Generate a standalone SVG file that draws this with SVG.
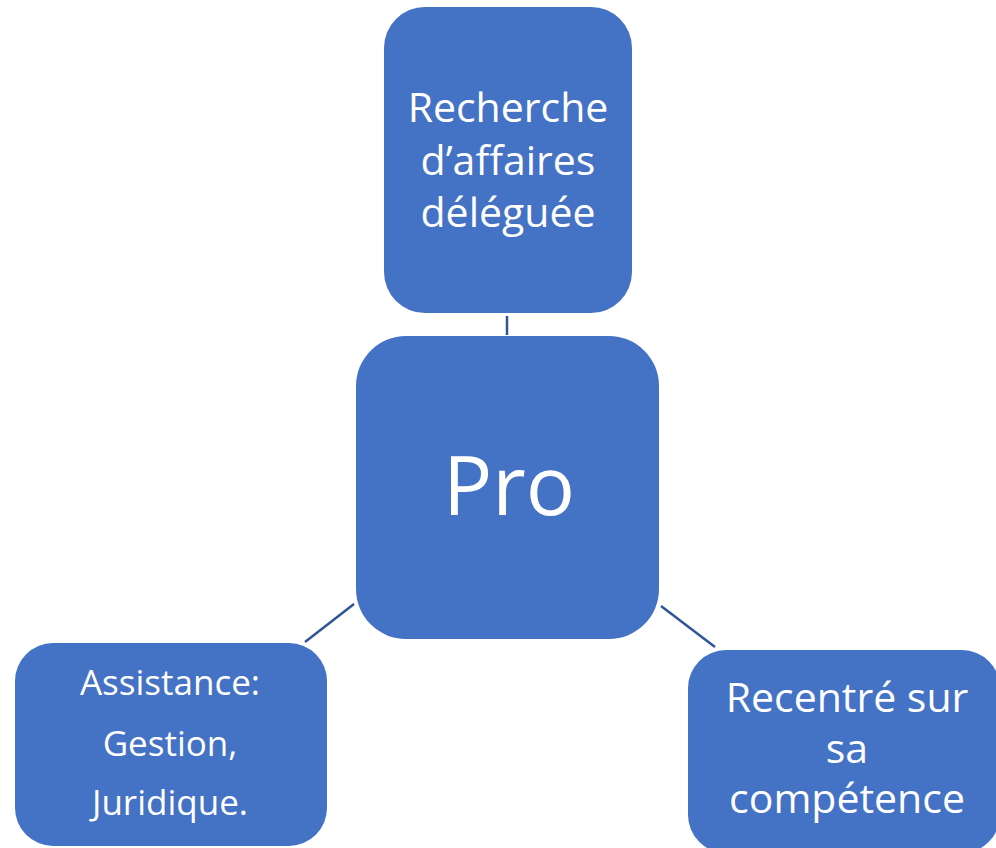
<svg xmlns="http://www.w3.org/2000/svg" width="996" height="848" viewBox="0 0 996 848">
<style>
.box{fill:#4472C4;}
.t{fill:#FFFFFF;font-family:"Open Sans","Liberation Sans",sans-serif;text-anchor:middle;}
.c{stroke:#2F5597;stroke-width:2.5;fill:none;}
</style>
<rect width="996" height="848" fill="#FFFFFF"/>
<g id="connectors">
<line class="c" x1="507" y1="316" x2="507" y2="335"/>
<line class="c" x1="354" y1="604" x2="305" y2="642"/>
<line class="c" x1="661" y1="606" x2="715" y2="647"/>
</g>
<g id="node-recherche">
<rect class="box" x="384" y="7" width="248" height="306" rx="41" ry="41"/>
<text class="t" font-size="41" x="508" y="122">Recherche</text>
<text class="t" font-size="41" x="508" y="175">d’affaires</text>
<text class="t" font-size="41" x="508" y="227">déléguée</text>
</g>
<g id="node-pro">
<rect class="box" x="356" y="336" width="303" height="303" rx="50" ry="50"/>
<text class="t" font-size="82" x="509" y="515">Pro</text>
</g>
<g id="node-assistance">
<rect class="box" x="15" y="643" width="312" height="203" rx="38" ry="38"/>
<text class="t" font-size="35" x="170" y="695">Assistance:</text>
<text class="t" font-size="35" x="170" y="756">Gestion,</text>
<text class="t" font-size="35" x="170" y="815">Juridique.</text>
</g>
<g id="node-recentre">
<rect class="box" x="688" y="650" width="312" height="203" rx="38" ry="38"/>
<text class="t" font-size="41" x="847" y="712">Recentré sur</text>
<text class="t" font-size="41" x="847" y="763">sa</text>
<text class="t" font-size="41" x="847" y="813">compétence</text>
</g>
</svg>
